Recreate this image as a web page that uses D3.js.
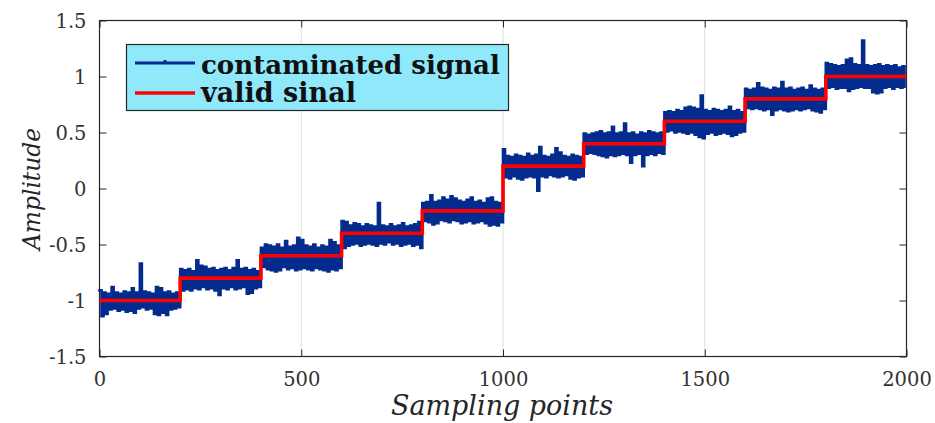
<!DOCTYPE html>
<html>
<head>
<meta charset="utf-8">
<script src="https://cdn.jsdelivr.net/npm/d3@7/dist/d3.min.js"></script>
<style>
  html, body { margin: 0; padding: 0; background: #fff; }
  svg { display: block; }
</style>
</head>
<body>
<svg id="chart" width="935" height="423"></svg>
<script>
// Step levels of the valid signal and where each step starts (sample index)
const levels = [-1, -0.8, -0.6, -0.4, -0.2, 0.2, 0.4, 0.6, 0.8, 1];
const stepEdges = [0, 200, 400, 600, 800, 1000, 1200, 1400, 1600, 1800, 2000];

// Contaminated signal: per 10-sample bin, the highest and lowest deviation
// from the step level (one row of 20 bins per step)
const binSize = 10;
const noiseHigh = [
  [0.09,0.07,0.06,0.12,0.07,0.06,0.08,0.07,0.11,0.07,0.33,0.08,0.07,0.06,0.12,0.11,0.07,0.08,0.06,0.07],
  [0.08,0.07,0.08,0.06,0.16,0.11,0.10,0.08,0.09,0.07,0.08,0.09,0.07,0.09,0.16,0.08,0.09,0.07,0.08,0.06],
  [0.07,0.10,0.09,0.08,0.10,0.07,0.13,0.08,0.09,0.16,0.14,0.09,0.08,0.10,0.07,0.09,0.08,0.14,0.12,0.09],
  [0.11,0.10,0.07,0.09,0.08,0.06,0.08,0.07,0.06,0.27,0.07,0.06,0.08,0.06,0.07,0.09,0.06,0.07,0.08,0.10],
  [0.07,0.08,0.14,0.08,0.09,0.12,0.10,0.13,0.11,0.09,0.08,0.10,0.12,0.08,0.09,0.07,0.11,0.12,0.08,0.07],
  [0.15,0.09,0.08,0.10,0.09,0.08,0.11,0.09,0.10,0.17,0.09,0.08,0.10,0.16,0.12,0.09,0.08,0.10,0.09,0.08],
  [0.09,0.08,0.09,0.10,0.11,0.09,0.10,0.15,0.09,0.10,0.18,0.09,0.10,0.08,0.10,0.09,0.11,0.10,0.09,0.10],
  [0.08,0.09,0.08,0.10,0.09,0.12,0.13,0.12,0.11,0.23,0.10,0.09,0.11,0.10,0.09,0.10,0.13,0.09,0.10,0.08],
  [0.09,0.08,0.09,0.14,0.10,0.09,0.08,0.10,0.09,0.15,0.09,0.10,0.08,0.09,0.10,0.08,0.12,0.09,0.08,0.09],
  [0.12,0.11,0.10,0.09,0.10,0.15,0.16,0.11,0.10,0.32,0.10,0.09,0.10,0.11,0.09,0.10,0.09,0.10,0.08,0.09]
];
const noiseLow = [
  [-0.14,-0.12,-0.08,-0.07,-0.09,-0.08,-0.10,-0.09,-0.11,-0.07,-0.06,-0.08,-0.07,-0.12,-0.13,-0.11,-0.13,-0.08,-0.07,-0.06],
  [-0.11,-0.10,-0.11,-0.09,-0.10,-0.08,-0.10,-0.09,-0.11,-0.15,-0.09,-0.10,-0.08,-0.10,-0.09,-0.08,-0.14,-0.13,-0.09,-0.08],
  [-0.10,-0.12,-0.13,-0.14,-0.13,-0.10,-0.12,-0.11,-0.13,-0.12,-0.11,-0.12,-0.13,-0.11,-0.12,-0.13,-0.14,-0.12,-0.13,-0.11],
  [-0.13,-0.11,-0.10,-0.09,-0.11,-0.10,-0.09,-0.10,-0.11,-0.09,-0.10,-0.08,-0.10,-0.09,-0.11,-0.10,-0.09,-0.11,-0.10,-0.13],
  [-0.09,-0.10,-0.12,-0.11,-0.08,-0.09,-0.10,-0.08,-0.09,-0.11,-0.10,-0.09,-0.11,-0.10,-0.09,-0.11,-0.13,-0.12,-0.13,-0.10],
  [-0.10,-0.11,-0.09,-0.11,-0.12,-0.10,-0.09,-0.10,-0.22,-0.09,-0.10,-0.08,-0.09,-0.10,-0.09,-0.08,-0.11,-0.12,-0.10,-0.09],
  [-0.09,-0.08,-0.09,-0.10,-0.11,-0.12,-0.10,-0.11,-0.10,-0.09,-0.10,-0.17,-0.10,-0.09,-0.20,-0.10,-0.09,-0.10,-0.08,-0.09],
  [-0.09,-0.08,-0.10,-0.09,-0.10,-0.11,-0.10,-0.12,-0.14,-0.15,-0.11,-0.10,-0.12,-0.11,-0.10,-0.11,-0.13,-0.12,-0.10,-0.09],
  [-0.08,-0.09,-0.08,-0.09,-0.10,-0.09,-0.14,-0.10,-0.09,-0.10,-0.11,-0.10,-0.09,-0.10,-0.09,-0.08,-0.10,-0.11,-0.12,-0.09],
  [-0.10,-0.09,-0.11,-0.10,-0.10,-0.13,-0.11,-0.10,-0.09,-0.10,-0.10,-0.14,-0.15,-0.14,-0.10,-0.09,-0.11,-0.09,-0.10,-0.09]
];

const xTicks = [0, 500, 1000, 1500, 2000];
const yTicks = [-1.5, -1, -0.5, 0, 0.5, 1, 1.5];
const xGrid = [500, 1000, 1500];
const seriesNames = ["contaminated signal", "valid sinal"];
const xTitle = "Sampling points";
const yTitle = "Amplitude";

const BLUE = "#032b8e", RED = "#ff0000", AXIS = "#262626";
const SERIF = "'DejaVu Serif', 'Liberation Serif', serif";

const svg = d3.select("#chart");
svg.append("rect").attr("width", 935).attr("height", 423).attr("fill", "#fff");

const x = d3.scaleLinear().domain([0, 2000]).range([99.5, 906.5]);
const y = d3.scaleLinear().domain([-1.5, 1.5]).range([356.5, 20.5]);

// vertical grid lines
svg.append("g").selectAll("line").data(xGrid).join("line")
  .attr("x1", d => x(d)).attr("x2", d => x(d))
  .attr("y1", y(1.5)).attr("y2", y(-1.5))
  .attr("stroke", "#dedede").attr("stroke-width", 1);

// axes box and inward ticks
const fmt = v => String(v);
const axBottom = svg.append("g").attr("transform", `translate(0,${y(-1.5)})`)
  .call(d3.axisBottom(x).tickValues(xTicks).tickSize(-7).tickPadding(16).tickFormat(fmt));
const axTop = svg.append("g").attr("transform", `translate(0,${y(1.5)})`)
  .call(d3.axisTop(x).tickValues(xTicks).tickSize(-7).tickFormat(""));
const axLeft = svg.append("g").attr("transform", `translate(${x(0)},0)`)
  .call(d3.axisLeft(y).tickValues(yTicks).tickSize(-7).tickPadding(13).tickFormat(fmt));
const axRight = svg.append("g").attr("transform", `translate(${x(2000)},0)`)
  .call(d3.axisRight(y).tickValues(yTicks).tickSize(-7).tickFormat(""));
[axBottom, axTop, axLeft, axRight].forEach(g => {
  g.select(".domain").remove();
  g.selectAll(".tick line").attr("stroke", AXIS).attr("stroke-width", 1);
  g.selectAll("text").attr("fill", "#333").style("font-family", SERIF).style("font-size", "19.5px");
});
axLeft.selectAll("text").attr("dy", "0.36em");

svg.append("rect")
  .attr("x", x(0)).attr("y", y(1.5))
  .attr("width", x(2000) - x(0)).attr("height", y(-1.5) - y(1.5))
  .attr("fill", "none").attr("stroke", AXIS).attr("stroke-width", 1.2);

// contaminated signal: zigzag through each bin's high and low values
const noisy = [];
levels.forEach((lv, k) => {
  noiseHigh[k].forEach((hi, b) => {
    const s0 = stepEdges[k] + b * binSize;
    noisy.push({ s: s0, v: lv + hi });
    noisy.push({ s: s0 + binSize / 2, v: lv + noiseLow[k][b] });
  });
});
svg.append("path")
  .datum(noisy)
  .attr("fill", "none").attr("stroke", BLUE).attr("stroke-width", 2.6)
  .attr("stroke-linecap", "square")
  .attr("d", d3.line().x(d => x(d.s)).y(d => y(d.v)).curve(d3.curveStepAfter));

// valid (step) signal
const steps = levels.map((lv, k) => ({ s: stepEdges[k], v: lv }));
steps.push({ s: stepEdges[stepEdges.length - 1], v: levels[levels.length - 1] });
svg.append("path")
  .datum(steps)
  .attr("fill", "none").attr("stroke", RED).attr("stroke-width", 3.6)
  .attr("d", d3.line().x(d => x(d.s)).y(d => y(d.v)).curve(d3.curveStepAfter));

// text helper: size the font so the label spans the given width
function fitText(sel, txt, width, style) {
  sel.text(txt).style("font-family", SERIF).style("font-size", "100px");
  Object.entries(style || {}).forEach(([k, v]) => sel.style(k, v));
  const w = sel.node().getComputedTextLength();
  sel.style("font-size", (100 * width / w).toFixed(2) + "px");
  return sel;
}

// axis titles
fitText(svg.append("text").attr("x", 502).attr("y", 415).attr("text-anchor", "middle").attr("fill", AXIS),
  xTitle, 222, { "font-style": "italic" });
fitText(svg.append("text").attr("transform", "translate(40,189) rotate(-90)").attr("text-anchor", "middle").attr("fill", AXIS),
  yTitle, 122, { "font-style": "italic" });

// legend
const lg = svg.append("g");
lg.append("rect").attr("x", 126.5).attr("y", 44.5).attr("width", 382).attr("height", 66)
  .attr("fill", "#8fe9fb").attr("stroke", AXIS).attr("stroke-width", 1.2);
lg.append("line").attr("x1", 135).attr("x2", 195).attr("y1", 63).attr("y2", 63)
  .attr("stroke", BLUE).attr("stroke-width", 3);
lg.append("line").attr("x1", 165).attr("x2", 165).attr("y1", 60).attr("y2", 63)
  .attr("stroke", BLUE).attr("stroke-width", 3);
lg.append("line").attr("x1", 135).attr("x2", 195).attr("y1", 93).attr("y2", 93)
  .attr("stroke", RED).attr("stroke-width", 3.6);
fitText(lg.append("text").attr("x", 201).attr("y", 74).attr("fill", "#111"),
  seriesNames[0], 299, { "font-weight": "bold" });
fitText(lg.append("text").attr("x", 201).attr("y", 102).attr("fill", "#111"),
  seriesNames[1], 155, { "font-weight": "bold" });
</script>
</body>
</html>
